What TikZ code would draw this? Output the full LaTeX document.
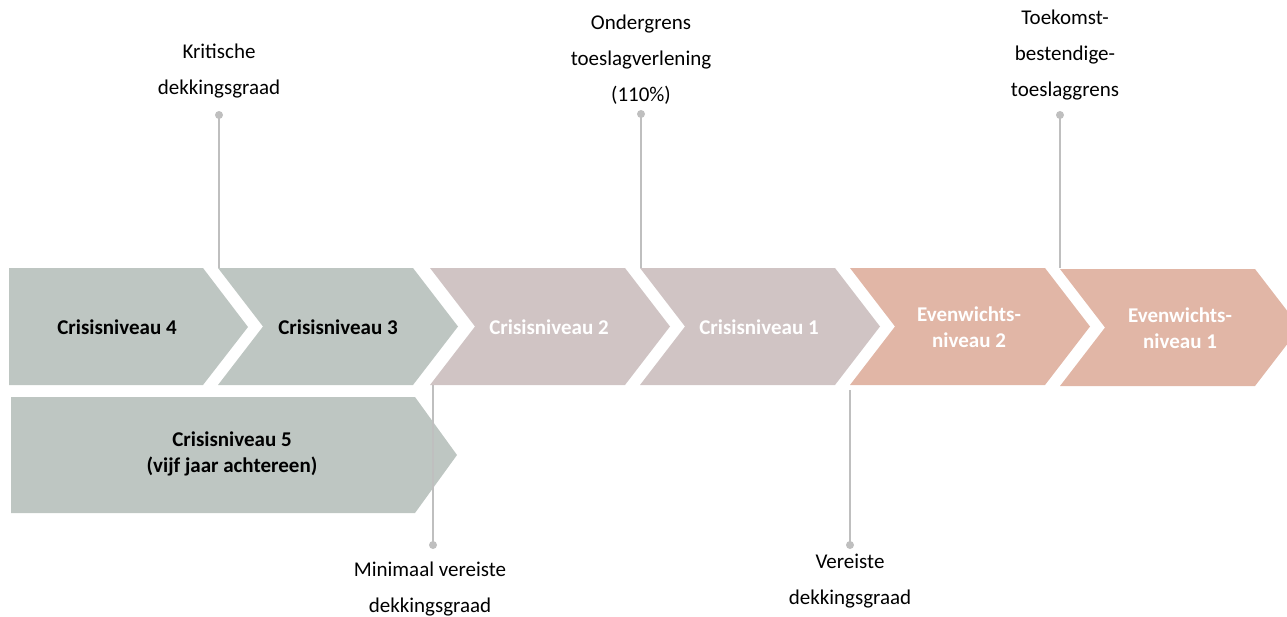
\documentclass[tikz,border=0pt]{standalone}
\usepackage{fontspec}
\setmainfont{Carlito}
\definecolor{cgreen}{RGB}{190,198,194}
\definecolor{cmauve}{RGB}{208,196,196}
\definecolor{csalmon}{RGB}{225,182,166}
\definecolor{cline}{RGB}{191,191,191}
\begin{document}
\begin{tikzpicture}[x=1pt,y=-1pt,
  chevtext/.style={font=\fontsize{21}{26}\selectfont\bfseries, align=center, inner sep=0pt},
  lbl/.style={font=\fontsize{21}{36}\selectfont, align=center, inner sep=0pt},
  dot/.style={circle, fill=cline, minimum size=8pt, inner sep=0pt},
  conn/.style={draw=cline, line width=1.3pt}]
\useasboundingbox (0,0) rectangle (1287,616);
\clip (0,0) rectangle (1287,616);
% chevrons
\newcommand{\chevron}[4]{%
  \fill[#4] (#1,#2) -- ++(195,0) -- (#1+240,#2/2+#3/2) -- (#1+195,#3) -- (#1,#3) -- (#1+45,#2/2+#3/2) -- cycle;}
\fill[cgreen] (9,268) -- (203,268) -- (248,327) -- (203,385) -- (9,385) -- cycle;
\chevron{218}{268}{385}{cgreen}
\chevron{430}{268}{385}{cmauve}
\chevron{640}{268}{385}{cmauve}
\chevron{850}{268}{385}{csalmon}
\chevron{1060}{269}{386}{csalmon}
\fill[cgreen] (11,397) -- (415,397) -- (457,455) -- (415,513) -- (11,513) -- cycle;
% chevron texts
\node[chevtext] (c4) at (117,327) {Crisisniveau 4};
\node[chevtext] (c3) at (338,327) {Crisisniveau 3};
\node[chevtext, text=white] (c2) at (549,327) {Crisisniveau 2};
\node[chevtext, text=white] (c1) at (759,327) {Crisisniveau 1};
\node[chevtext, text=white] (e2) at (969,327) {Evenwichts-\\niveau 2};
\node[chevtext, text=white] (e1) at (1180,328) {Evenwichts-\\niveau 1};
\node[chevtext] (c5) at (232,454) {Crisisniveau 5\\(vijf jaar achtereen)};
% connector endpoints
\coordinate (kc) at (219,268);
\coordinate (oc) at (641,268);
\coordinate (tc) at (1060,268);
\coordinate (mc) at (433,385);
\coordinate (vc) at (850,390);
% dots
\node[dot] (kd) at (219,115) {};
\node[dot] (od) at (641,114) {};
\node[dot] (td) at (1060,115) {};
\node[dot] (md) at (433,545) {};
\node[dot] (vd) at (850,545) {};
\draw[conn] (kd.center) -- (kc);
\draw[conn] (od.center) -- (oc);
\draw[conn] (td.center) -- (tc);
\draw[conn] (md.center) -- (mc);
\draw[conn] (vd.center) -- (vc);
% labels
\node[lbl] (kl) at (219,71) {Kritische\\dekkingsgraad};
\node[lbl] (ol) at (641,60) {Ondergrens\\toeslagverlening\\(110\%)};
\node[lbl] (tl) at (1065,55) {Toekomst-\\bestendige-\\toeslaggrens};
\node[lbl] (ml) at (430,589) {Minimaal vereiste\\dekkingsgraad};
\node[lbl] (vl) at (850,581) {Vereiste\\dekkingsgraad};
\end{tikzpicture}
\end{document}
